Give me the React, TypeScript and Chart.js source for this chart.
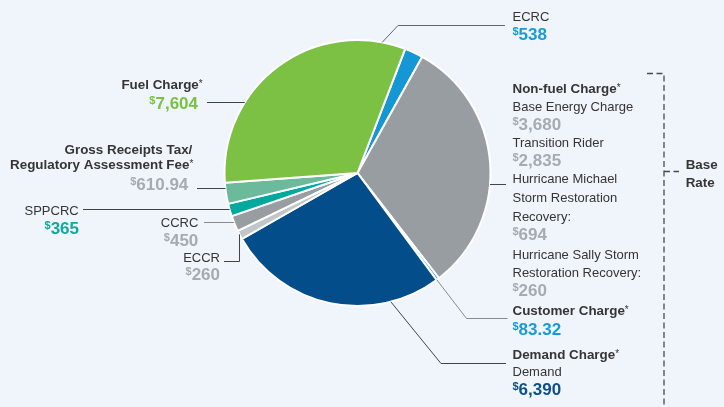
import React, { useEffect, useRef } from 'react';
import { Chart, registerables } from 'chart.js';

Chart.register(...registerables);

// ---- data ----
const categories = ['ECRC', 'Non-fuel Charge', 'Customer Charge', 'Demand Charge', 'ECCR', 'CCRC', 'SPPCRC', 'Gross Receipts Tax/Regulatory Assessment Fee', 'Fuel Charge'];
const nonFuelItems = ['Base Energy Charge', 'Transition Rider', 'Hurricane Michael Storm Restoration Recovery:', 'Hurricane Sally Storm Restoration Recovery:'];
const nonFuelValues = [3680, 2835, 694, 260];
const ecrc = 538;
const customerCharge = 83.32;
const demandCharge = 6390;
const eccr = 260;
const ccrc = 450;
const sppcrc = 365;
const grossReceipts = 610.94;
const fuelCharge = 7604;
const values = [ecrc, nonFuelValues.reduce((a, b) => a + b, 0), customerCharge, demandCharge, eccr, ccrc, sppcrc, grossReceipts, fuelCharge];
const sliceColors = ['#1597d6', '#989da2', '#1597d6', '#034d8a', '#c0c6c9', '#989da2', '#00a99d', '#6bba9b', '#7cc143'];

// ---- styles ----
const BG = '#eff5fb';
const FAMILY = '"Liberation Sans", Arial, Helvetica, sans-serif';
const F_REG = `13px ${FAMILY}`;
const F_BOLD = `bold 13.4px ${FAMILY}`;
const F_VAL = `bold 17px ${FAMILY}`;
const F_DOLLAR = `bold 11px ${FAMILY}`;
const F_AST = `10px ${FAMILY}`;
const TXT = '#353535';
const C_BLUE = '#1a9bd7';
const C_GRAY = '#a6abb0';
const C_GREEN = '#7ac143';
const C_TEAL = '#13a89e';
const C_DBLUE = '#0d4f8b';

const fmt = (v: number) => v.toLocaleString('en-US', { maximumFractionDigits: 2 });

type Seg = { t: string; font: string; color: string; dy?: number };
const plain = (t: string): Seg[] => [{ t, font: F_REG, color: TXT }];
const boldAst = (t: string): Seg[] => [{ t, font: F_BOLD, color: TXT }, { t: '*', font: F_AST, color: TXT, dy: -2 }];
const bold = (t: string): Seg[] => [{ t, font: F_BOLD, color: TXT }];
const money = (v: number, color: string): Seg[] => [
  { t: '$', font: F_DOLLAR, color, dy: -5 },
  { t: fmt(v), font: F_VAL, color },
];

type TextLine = { segs: Seg[]; x: number; y: number; align: 'left' | 'right' };
const RX = 512.5;
const textLines: TextLine[] = [
  { segs: plain(categories[0]), x: RX, y: 21, align: 'left' },
  { segs: money(ecrc, C_BLUE), x: RX, y: 39.5, align: 'left' },
  { segs: boldAst(categories[1]), x: RX, y: 92.6, align: 'left' },
  { segs: plain(nonFuelItems[0]), x: RX, y: 111, align: 'left' },
  { segs: money(nonFuelValues[0], C_GRAY), x: RX, y: 130, align: 'left' },
  { segs: plain(nonFuelItems[1]), x: RX, y: 146.5, align: 'left' },
  { segs: money(nonFuelValues[1], C_GRAY), x: RX, y: 165.5, align: 'left' },
  { segs: plain('Hurricane Michael'), x: RX, y: 182.6, align: 'left' },
  { segs: plain('Storm Restoration'), x: RX, y: 202, align: 'left' },
  { segs: plain('Recovery:'), x: RX, y: 221, align: 'left' },
  { segs: money(nonFuelValues[2], C_GRAY), x: RX, y: 240, align: 'left' },
  { segs: plain('Hurricane Sally Storm'), x: RX, y: 258.6, align: 'left' },
  { segs: plain('Restoration Recovery:'), x: RX, y: 276.6, align: 'left' },
  { segs: money(nonFuelValues[3], C_GRAY), x: RX, y: 296, align: 'left' },
  { segs: boldAst(categories[2]), x: RX, y: 315.3, align: 'left' },
  { segs: money(customerCharge, C_BLUE), x: RX, y: 334.5, align: 'left' },
  { segs: boldAst(categories[3]), x: RX, y: 358.6, align: 'left' },
  { segs: plain('Demand'), x: RX, y: 376, align: 'left' },
  { segs: money(demandCharge, C_DBLUE), x: RX, y: 394.5, align: 'left' },
  { segs: boldAst(categories[8]), x: 202.7, y: 89.3, align: 'right' },
  { segs: money(fuelCharge, C_GREEN), x: 198, y: 109, align: 'right' },
  { segs: bold('Gross Receipts Tax/'), x: 192.3, y: 154.3, align: 'right' },
  { segs: boldAst('Regulatory Assessment Fee'), x: 193.3, y: 169.3, align: 'right' },
  { segs: money(grossReceipts, C_GRAY), x: 188.3, y: 189.5, align: 'right' },
  { segs: plain(categories[6]), x: 78.7, y: 214.5, align: 'right' },
  { segs: money(sppcrc, C_TEAL), x: 79, y: 233.5, align: 'right' },
  { segs: plain(categories[5]), x: 198.3, y: 226.5, align: 'right' },
  { segs: money(ccrc, C_GRAY), x: 198.3, y: 245.5, align: 'right' },
  { segs: plain(categories[4]), x: 220, y: 261.5, align: 'right' },
  { segs: money(eccr, C_GRAY), x: 220, y: 279.5, align: 'right' },
  { segs: bold('Base'), x: 685.7, y: 168.5, align: 'left' },
  { segs: bold('Rate'), x: 685.7, y: 187, align: 'left' },
];

function drawSegs(ctx: CanvasRenderingContext2D, line: TextLine) {
  let w = 0;
  for (const s of line.segs) {
    ctx.font = s.font;
    w += ctx.measureText(s.t).width;
  }
  let x = line.align === 'right' ? line.x - w : line.x;
  ctx.textBaseline = 'alphabetic';
  ctx.textAlign = 'left';
  for (const s of line.segs) {
    ctx.font = s.font;
    ctx.fillStyle = s.color;
    ctx.fillText(s.t, x, line.y + (s.dy || 0));
    x += ctx.measureText(s.t).width;
  }
}

const DARK = '#444444';
const LIGHT = '#8a8a8a';

const overlayPlugin = {
  id: 'overlay',
  beforeDraw(chart: any) {
    const ctx = chart.ctx as CanvasRenderingContext2D;
    ctx.save();
    ctx.fillStyle = BG;
    ctx.fillRect(0, 0, chart.width, chart.height);
    ctx.restore();
  },
  afterDraw(chart: any) {
    const ctx = chart.ctx as CanvasRenderingContext2D;
    const arc = chart.getDatasetMeta(0).data[0];
    const cx = arc.x;
    const cy = arc.y;
    const R = arc.outerRadius;
    const pt = (deg: number): [number, number] => {
      const a = (deg * Math.PI) / 180;
      return [cx + R * Math.sin(a), cy - R * Math.cos(a)];
    };
    const edgeRight = (y: number): [number, number] => [cx + Math.sqrt(R * R - (y - cy) ** 2), y];
    const edgeLeft = (y: number): [number, number] => [cx - Math.sqrt(R * R - (y - cy) ** 2), y];
    const edgeBottom = (x: number): [number, number] => [x, cy + Math.sqrt(R * R - (x - cx) ** 2)];

    const leaders: { p: [number, number][]; c: string }[] = [
      { p: [pt(10.7), [398, 25.5], [505, 25.5]], c: '#666666' },
      { p: [edgeRight(184.5), [506, 184.5]], c: DARK },
      { p: [pt(143.4), [466.5, 318.5], [507.5, 318.5]], c: LIGHT },
      { p: [pt(165.5), [441, 363.5], [506, 363.5]], c: DARK },
      { p: [[207, 102.5], edgeLeft(102.5)], c: DARK },
      { p: [[197, 188.5], edgeLeft(188.5)], c: DARK },
      { p: [[83, 209.5], edgeLeft(209.5)], c: DARK },
      { p: [[204, 222.5], edgeLeft(222.5)], c: LIGHT },
      { p: [[224, 261.5], [239.5, 261.5], edgeBottom(239.5)], c: DARK },
    ];
    ctx.save();
    ctx.lineWidth = 1;
    for (const l of leaders) {
      ctx.strokeStyle = l.c;
      ctx.beginPath();
      l.p.forEach((q, i) => (i === 0 ? ctx.moveTo(q[0], q[1]) : ctx.lineTo(q[0], q[1])));
      ctx.stroke();
    }
    // Base Rate bracket
    ctx.strokeStyle = '#4a4a4a';
    ctx.lineWidth = 1.3;
    ctx.setLineDash([6, 3.5]);
    ctx.beginPath();
    ctx.moveTo(647, 73.5);
    ctx.lineTo(664, 73.5);
    ctx.lineTo(664, 410);
    ctx.stroke();
    ctx.beginPath();
    ctx.moveTo(664, 171.5);
    ctx.lineTo(679, 171.5);
    ctx.stroke();
    ctx.setLineDash([]);
    for (const line of textLines) drawSegs(ctx, line);
    ctx.restore();
  },
};

export default function App() {
  const ref = useRef<HTMLCanvasElement>(null);
  useEffect(() => {
    if (!ref.current) return;
    const chart = new Chart(ref.current, {
      type: 'pie',
      data: {
        labels: categories,
        datasets: [
          {
            data: values,
            backgroundColor: sliceColors,
            borderColor: '#ffffff',
            borderWidth: 2,
          },
        ],
      },
      options: {
        responsive: false,
        animation: false,
        devicePixelRatio: 1,
        rotation: 21,
        radius: 133,
        layout: { padding: { left: 0, right: 9, top: 0, bottom: 61 } },
        plugins: { legend: { display: false }, tooltip: { enabled: false } },
        events: [],
      } as any,
      plugins: [overlayPlugin],
    });
    return () => chart.destroy();
  }, []);
  return (
    <div style={{ position: 'fixed', left: 0, top: 0, width: 724, height: 407, background: BG }}>
      <canvas ref={ref} width={724} height={407} style={{ display: 'block', width: 724, height: 407 }} />
    </div>
  );
}
